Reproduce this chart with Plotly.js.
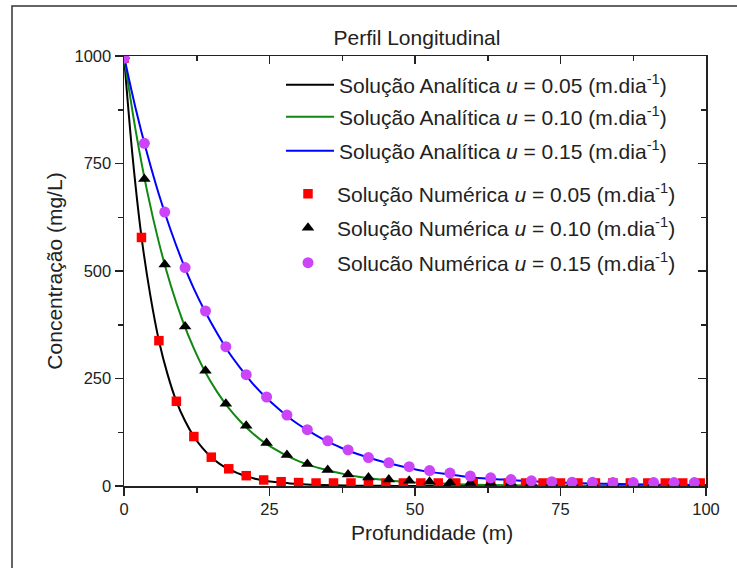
<!DOCTYPE html>
<html>
<head>
<meta charset="utf-8">
<script src="https://cdn.plot.ly/plotly-3.0.1.min.js"></script>
<style>
html,body{margin:0;padding:0;background:#fff;overflow:hidden;}
#chart{width:737px;height:568px;}
</style>
</head>
<body>
<div id="chart"></div>
<script>
// ---- Data ----
var chartTitle = "Perfil Longitudinal";
var xTitle = "Profundidade (m)";
var yTitle = "Concentração (mg/L)";
var xTicks = [0, 25, 50, 75, 100];
var yTicks = [0, 250, 500, 750, 1000];

var seriesNames = [
  "Solução Analítica <i>u</i> = 0.05 (m.dia<sup>-1</sup>)",
  "Solução Analítica <i>u</i> = 0.10 (m.dia<sup>-1</sup>)",
  "Solução Analítica <i>u</i> = 0.15 (m.dia<sup>-1</sup>)",
  "Solução Numérica <i>u</i> = 0.05 (m.dia<sup>-1</sup>)",
  "Solução Numérica <i>u</i> = 0.10 (m.dia<sup>-1</sup>)",
  "Solucão Numérica <i>u</i> = 0.15 (m.dia<sup>-1</sup>)"
];

// Analytical u = 0.05 (black line)
var anaX1 = [0,1.5,3,4.5,6,7.5,9,10.5,12,13.5,15,16.5,18,19.5,21,22.5,24,25.5,27,28.5,30,33,36,40,45,50,60,70,80,90,100];
var anaY1 = [1000,763,580,445,338,259,197,151,115,88,67,51,39,30,23,17,13,10,8,6,4.5,2.6,1.5,0.7,0.3,0,0,0,0,0,0];

// Analytical u = 0.10 (green line)
var anaX2 = [0,2,4,6,8,10,12,14,16,18,20,22,24,26,28,30,32,34,36,38,40,44,48,52,56,60,70,80,90,100];
var anaY2 = [1000,827,684,566,468,387,320,264,219,181,150,124,102,85,70,58,48,40,33,27,22,15,10,7,5,3,1.3,0.5,0.2,0.1];

// Analytical u = 0.15 (blue line)
var anaX3 = [0,2,4,6,8,10,12,14,16,18,20,22,24,26,28,30,32,34,36,38,40,44,48,52,56,60,65,70,75,80,85,90,95,100];
var anaY3 = [1000,878,772,678,596,523,459,404,355,311,274,240,211,186,163,143,126,110,97,85,75,58,45,34,27,20,15,11,8,6,4.5,3.5,3,2.5];

// Numerical u = 0.05 (red squares)
var numX1 = [0,3,6,9,12,15,18,21,24,27,30,33,36,39,42,45,48,51,54,57,60,63,66,69,72,75,78,81,84,87,90,93,96,99];
var numY1 = [995,578,338,197,115,67,40,24,14,10,8,7,7,7,7,7,7,7,7,7,7,7,7,7,7,7,7,7,7,7,7,7,7,7];

// Numerical u = 0.10 (black triangles)
var numX2 = [0,3.5,7,10.5,14,17.5,21,24.5,28,31.5,35,38.5,42,45.5,49,52.5,56,59.5,63,66.5,70,73.5,77,80.5,84,87.5,91,94.5,98];
var numY2 = [1000,714,515,371,268,191,140,100,72,51,37,27,20,15,12,10,8,7,7,7,7,7,7,7,7,7,7,7,7];

// Numerical u = 0.15 (purple circles)
var numX3 = [0,3.5,7,10.5,14,17.5,21,24.5,28,31.5,35,38.5,42,45.5,49,52.5,56,59.5,63,66.5,70,73.5,77,80.5,84,87.5,91,94.5,98];
var numY3 = [995,797,637,508,407,324,259,207,165,131,105,84,66,54,45,36,30,23,19,15,12,10,9,8.5,8,8,8,8,8];

// ---- Traces ----
var FONT = "Liberation Sans, Arial, Helvetica, sans-serif";
var traces = [
  {x: anaX1, y: anaY1, name: seriesNames[0], mode: "lines", line: {color: "#000000", width: 2, shape: "spline"}, legend: "legend"},
  {x: anaX2, y: anaY2, name: seriesNames[1], mode: "lines", line: {color: "#118811", width: 2, shape: "spline"}, legend: "legend2"},
  {x: anaX3, y: anaY3, name: seriesNames[2], mode: "lines", line: {color: "#0000ff", width: 2, shape: "spline"}, legend: "legend3"},
  {x: numX1, y: numY1, name: seriesNames[3], mode: "markers", marker: {symbol: "square", size: 9.5, color: "#ff0000"}, legend: "legend4"},
  {x: numX2, y: numY2, name: seriesNames[4], mode: "markers", marker: {symbol: "triangle-up", size: 11, color: "#000000"}, legend: "legend5"},
  {x: numX3, y: numY3, name: seriesNames[5], mode: "markers", marker: {symbol: "circle", size: 11, color: "#cc44f8"}, legend: "legend6"},
  {x: [], y: [], xaxis: "x2", yaxis: "y2", showlegend: false, hoverinfo: "skip"}
];

var W = 737, H = 568;
var L = 124, R = 31, T = 56, B = 82;
var pw = W - L - R, ph = H - T - B;
function px2x(p){ return (p - L) / pw; }
function py2y(p){ return (H - B - p) / ph; }

function legendAt(xpx, ypx){
  return {
    x: px2x(xpx), xanchor: "left", y: py2y(ypx), yanchor: "middle",
    bgcolor: "rgba(0,0,0,0)", borderwidth: 0, itemwidth: 48,
    font: {family: FONT, size: 21, color: "#222"}
  };
}

var axisCommon = {
  showgrid: false, zeroline: false, showline: true, linecolor: "#222", linewidth: 1.5,
  tickcolor: "#222", tickwidth: 1.5, ticklen: 8
};

var layout = {
  width: W, height: H,
  margin: {l: L, r: R, t: T, b: B, pad: 0},
  paper_bgcolor: "#ffffff", plot_bgcolor: "#ffffff",
  font: {family: FONT, color: "#222"},
  showlegend: true,
  title: {text: chartTitle, font: {family: FONT, size: 21, color: "#222"}, x: 417 / W, xanchor: "center", y: 1 - 38 / H, yanchor: "middle", xref: "container", yref: "container"},
  xaxis: Object.assign({}, axisCommon, {
    range: [0, 100], tickvals: xTicks, ticktext: xTicks.map(String), ticks: "outside",
    minor: {dtick: 12.5, ticklen: 5, tickwidth: 1.5, tickcolor: "#222", ticks: "outside"},
    tickfont: {family: FONT, size: 16.5, color: "#222"}
  }),
  yaxis: Object.assign({}, axisCommon, {
    range: [0, 1000], tickvals: yTicks, ticktext: yTicks.map(String), ticks: "outside",
    minor: {dtick: 125, ticklen: 5, tickwidth: 1.5, tickcolor: "#222", ticks: "outside"},
    tickfont: {family: FONT, size: 16.5, color: "#222"},
    title: {text: yTitle, font: {family: FONT, size: 21, color: "#222"}, standoff: 6}
  }),
  xaxis2: Object.assign({}, axisCommon, {
    overlaying: "x", side: "top", anchor: "y2", range: [0, 100], tickvals: xTicks, ticks: "inside",
    showticklabels: false,
    minor: {dtick: 12.5, ticklen: 5, tickwidth: 1.5, tickcolor: "#222", ticks: "inside"}
  }),
  yaxis2: Object.assign({}, axisCommon, {
    overlaying: "y", side: "right", anchor: "x2", range: [0, 1000], tickvals: yTicks, ticks: "inside",
    showticklabels: false,
    minor: {dtick: 125, ticklen: 5, tickwidth: 1.5, tickcolor: "#222", ticks: "inside"}
  }),
  legend: legendAt(281, 85),
  legend2: legendAt(281, 117),
  legend3: legendAt(281, 151),
  legend4: legendAt(279, 194),
  legend5: legendAt(279, 228),
  legend6: legendAt(279, 263),
  annotations: [{
    text: xTitle, xref: "paper", yref: "paper", x: px2x(432), y: py2y(532),
    xanchor: "center", yanchor: "middle", showarrow: false,
    font: {family: FONT, size: 21, color: "#222"}
  }],
  shapes: [{
    type: "path", xref: "paper", yref: "paper",
    path: "M " + px2x(12) + "," + py2y(600) + " L " + px2x(12) + "," + py2y(6) + " L " + px2x(760) + "," + py2y(6),
    line: {color: "#333", width: 1.5}
  }]
};

Plotly.newPlot("chart", traces, layout, {staticPlot: true, displayModeBar: false});
</script>
</body>
</html>
